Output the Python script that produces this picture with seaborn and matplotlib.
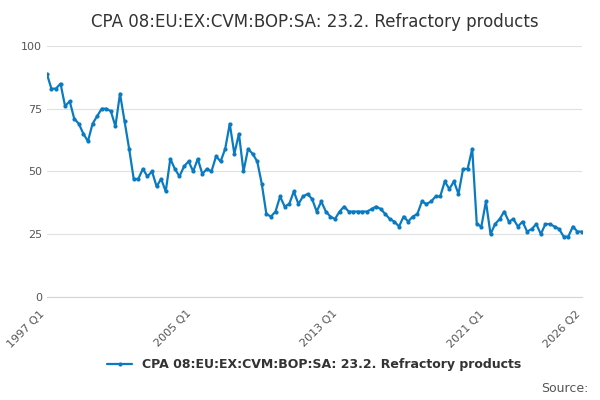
import numpy as np
import pandas as pd
import matplotlib
matplotlib.use("Agg")
import matplotlib.pyplot as plt
import seaborn as sns

values = [
    89, 83, 83, 85, 76, 78, 71, 69, 65, 62, 69, 72, 75, 75, 74, 68,
    81, 70, 59, 47, 47, 51, 48, 50, 44, 47, 42, 55, 51, 48, 52, 54,
    50, 55, 49, 51, 50, 56, 54, 59, 69, 57, 65, 50, 59, 57, 54, 45,
    33, 32, 34, 40, 36, 37, 42, 37, 40, 41, 39, 34, 38, 34, 32, 31,
    34, 36, 34, 34, 34, 34, 34, 35, 36, 35, 33, 31, 30, 28, 32, 30,
    32, 33, 38, 37, 38, 40, 40, 46, 43, 46, 41, 51, 51, 59, 29, 28,
    38, 25, 29, 31, 34, 30, 31, 28, 30, 26, 27, 29, 25, 29, 29, 28,
    27, 24, 24, 28, 26, 26,
]
labels = [f"{1997 + i // 4} Q{i % 4 + 1}" for i in range(len(values))]
tick_labels = ["1997 Q1", "2005 Q1", "2013 Q1", "2021 Q1", "2026 Q2"]
series_name = "CPA 08:EU:EX:CVM:BOP:SA: 23.2. Refractory products"

df = pd.DataFrame({"idx": np.arange(len(values)), "value": values})

sns.set_style("white")
plt.rcParams["font.family"] = ["DejaVu Sans"]
fig, ax = plt.subplots(figsize=(6, 4), dpi=100)
sns.lineplot(data=df, x="idx", y="value", color="#0a7bc1", linewidth=1.6,
             marker="o", markersize=3, markeredgewidth=0, label=series_name, ax=ax)

ax.set_ylim(0, 100)
ax.set_yticks([0, 25, 50, 75, 100])
ax.yaxis.grid(True, color="#e0e0e0", linewidth=0.8)
ax.set_xlim(0, len(values) - 1)
pos = [labels.index(t) for t in tick_labels]
ax.set_xticks(pos)
ax.set_xticklabels(tick_labels, rotation=45, ha="right", fontsize=8, color="#555555")
ax.set_xticks(list(range(0, len(values), 8)), minor=True)
ax.tick_params(axis="x", which="both", length=5, color="#ccd6eb")
ax.tick_params(axis="y", length=0, labelsize=8, labelcolor="#555555")
ax.set_xlabel("")
ax.set_ylabel("")
for s in ["top", "right", "left"]:
    ax.spines[s].set_visible(False)
ax.spines["bottom"].set_color("#ccd6eb")

ax.set_title("CPA 08:EU:EX:CVM:BOP:SA: 23.2. Refractory products", fontsize=12, color="#333333", pad=14)
leg = ax.legend(loc="upper center", bbox_to_anchor=(0.5, -0.2), frameon=False, fontsize=9)
for t in leg.get_texts():
    t.set_fontweight("bold")
    t.set_color("#333333")
fig.text(0.98, 0.02, "Source:", ha="right", fontsize=9, color="#555555")
fig.subplots_adjust(left=0.078, right=0.97, top=0.885, bottom=0.258)
fig.savefig("out.png", dpi=100)
